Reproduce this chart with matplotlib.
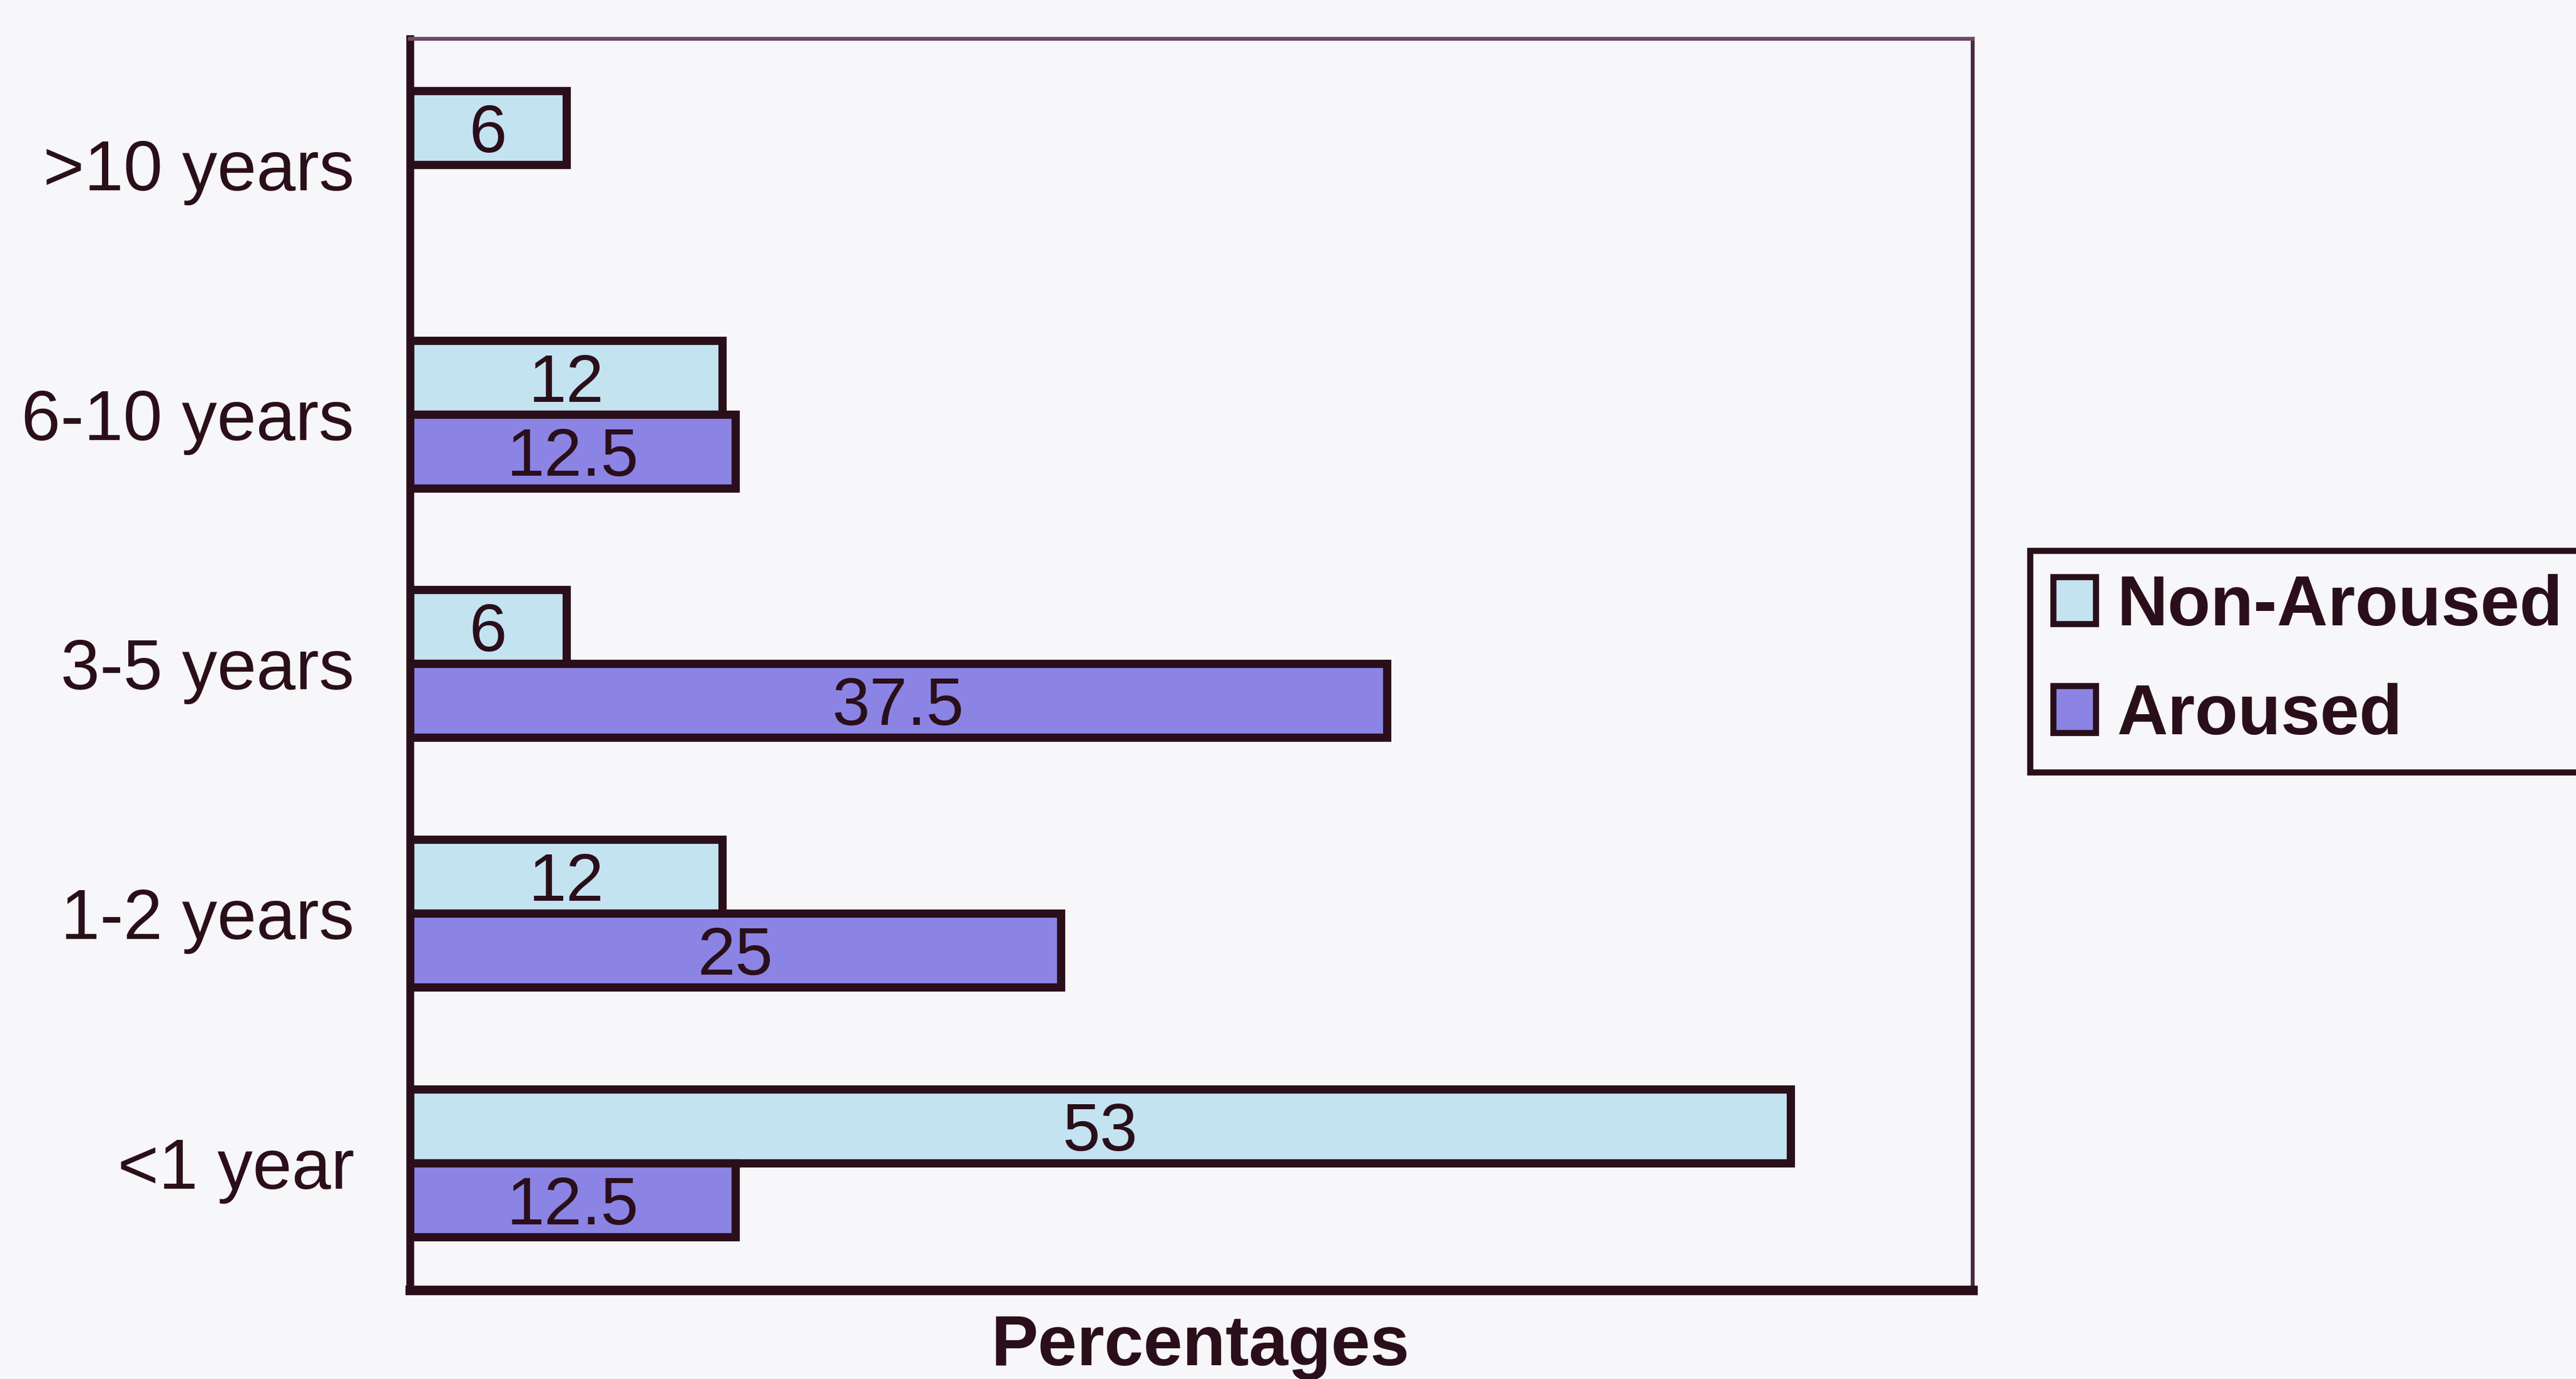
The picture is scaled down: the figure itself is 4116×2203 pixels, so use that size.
import numpy as np
import matplotlib
matplotlib.use("Agg")
import matplotlib.pyplot as plt
from matplotlib.patches import Patch

plt.rcParams['font.family'] = ['Liberation Sans', 'DejaVu Sans']

# Data (top to bottom)
categories = [">10 years", "6-10 years", "3-5 years", "1-2 years", "<1 year"]
non_aroused = [6, 12, 6, 12, 53]
aroused = [0, 12.5, 37.5, 25, 12.5]
series_names = ["Non-Aroused", "Aroused"]

light_blue = "#c3e3f1"
purple = "#8b84e4"
ink = "#2a0f1a"
paper = "#f7f6f8"

fig = plt.figure(figsize=(41.16, 22.03), dpi=100, facecolor=paper)
ax = fig.add_axes([0.1591, 0.0645, 0.6067, 0.9074], facecolor=paper)

y = np.arange(len(categories))
h = 0.296

b1 = ax.barh(y - h / 2, non_aroused, height=h, color=light_blue,
             edgecolor=ink, linewidth=9.5, zorder=3)
b2 = ax.barh(y + h / 2, aroused, height=h, color=purple,
             edgecolor=ink, linewidth=9.5, zorder=3)

# value labels centred in each bar, skip empty bars
for bars, vals in ((b1, non_aroused), (b2, aroused)):
    for rect, v in zip(bars, vals):
        if v == 0:
            rect.set_visible(False)
            continue
        ax.text(rect.get_x() + rect.get_width() / 2,
                rect.get_y() + rect.get_height() / 2,
                f"{v:g}", ha="center", va="center_baseline",
                fontsize=78, color=ink, zorder=4)

ax.set_xlim(0, 60)
ax.set_ylim(4.51, -0.505)
ax.set_yticks(y)
ax.set_yticklabels(categories, fontsize=81, color=ink)
ax.set_xticks([])
ax.tick_params(axis="y", length=0, pad=64)

ax.spines["left"].set_linewidth(9)
ax.spines["bottom"].set_linewidth(11)
ax.spines["top"].set_linewidth(4.5)
ax.spines["right"].set_linewidth(4.5)
for s in ax.spines.values():
    s.set_color(ink)
ax.spines["top"].set_color("#6e4a66")
ax.spines["right"].set_color("#4a2a44")

fig.text(1918 / 4116, 1 - 2152 / 2203, "Percentages", ha="center", va="center",
         fontsize=81, fontweight="bold", color=ink)

handles = [Patch(facecolor=light_blue, edgecolor=ink, linewidth=7),
           Patch(facecolor=purple, edgecolor=ink, linewidth=7)]
leg = fig.legend(handles=handles, labels=series_names,
                 loc="upper left", bbox_to_anchor=(3244 / 4116, 1 - 880 / 2203),
                 bbox_transform=fig.transFigure, borderaxespad=0,
                 prop={"size": 81, "weight": "bold"},
                 handlelength=0.6, handleheight=0.65, handletextpad=0.3,
                 borderpad=0.33, labelspacing=0.6, fancybox=False,
                 framealpha=1, facecolor=paper, edgecolor=ink)
leg.get_frame().set_linewidth(7)
for txt in leg.get_texts():
    txt.set_color(ink)

fig.savefig("out.png", dpi=100, facecolor=paper)
